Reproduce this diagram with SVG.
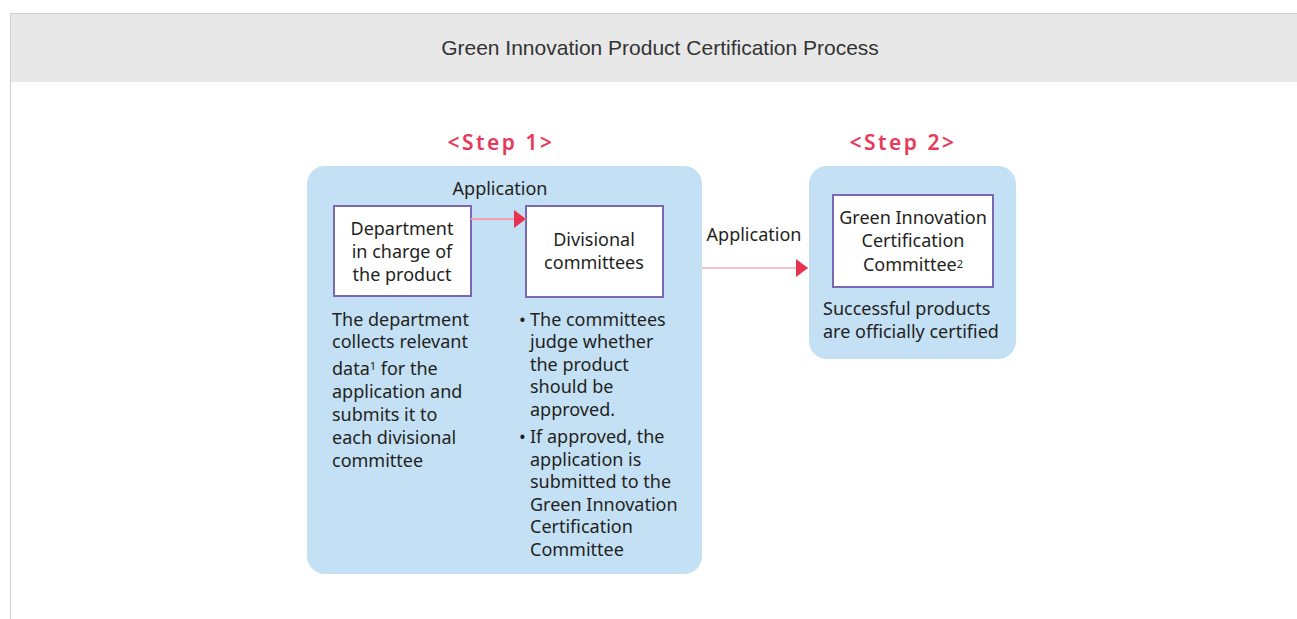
<svg xmlns="http://www.w3.org/2000/svg" width="1297" height="619" viewBox="0 0 1297 619">
<defs>
<style>
.t{font-family:"Noto Sans","Open Sans",sans-serif;font-size:18px;fill:#231f20}
.c{text-anchor:middle}
.step{font-family:"Noto Sans",sans-serif;font-size:21px;font-weight:600;fill:#e8395a;letter-spacing:2.5px;text-anchor:middle}
.panel{fill:#c3e0f5}
.node{fill:#fff;stroke:#7b68b5;stroke-width:2}
.sup{font-size:11px}
</style>
<marker id="ah" viewBox="0 0 12 18" refX="12" refY="9" markerWidth="12" markerHeight="18" markerUnits="userSpaceOnUse" orient="auto">
<path d="M0,0 L12,9 L0,18 Z" fill="#e8334f"/>
</marker>
</defs>
<rect x="0" y="0" width="1297" height="619" fill="#fff"/>
<rect x="10" y="13" width="1287" height="69" fill="#e8e8e8"/>
<line x1="10" y1="13.5" x2="1297" y2="13.5" stroke="#cfcfcf" stroke-width="1"/>
<line x1="10.5" y1="13" x2="10.5" y2="619" stroke="#cfcfcf" stroke-width="1"/>
<text x="660" y="55" text-anchor="middle" style="font-family:'Liberation Sans',Arial,sans-serif;font-size:21px;fill:#333">Green Innovation Product Certification Process</text>

<g id="step1">
<text class="step" x="501" y="150">&lt;Step 1&gt;</text>
<rect class="panel" x="307" y="166" width="395" height="408" rx="18"/>
<text class="t c" x="500" y="195">Application</text>
<text class="t" x="332"><tspan x="332" y="326">The department</tspan><tspan x="332" y="348">collects relevant</tspan><tspan x="332" y="375">data<tspan class="sup" dy="-5">1</tspan><tspan dy="5"> for the</tspan></tspan><tspan x="332" y="398">application and</tspan><tspan x="332" y="421">submits it to</tspan><tspan x="332" y="444">each divisional</tspan><tspan x="332" y="467">committee</tspan></text>
<text class="t"><tspan x="519" y="326">•</tspan><tspan x="530" y="326">The committees</tspan><tspan x="530" y="348">judge whether</tspan><tspan x="530" y="371">the product</tspan><tspan x="530" y="393">should be</tspan><tspan x="530" y="416">approved.</tspan><tspan x="519" y="443">•</tspan><tspan x="530" y="443">If approved, the</tspan><tspan x="530" y="466">application is</tspan><tspan x="530" y="488">submitted to the</tspan><tspan x="530" y="511">Green Innovation</tspan><tspan x="530" y="533">Certification</tspan><tspan x="530" y="556">Committee</tspan></text>
</g>

<g id="dept">
<rect class="node" x="334" y="206" width="137" height="90"/>
<text class="t c"><tspan x="402" y="235">Department</tspan><tspan x="402" y="258">in charge of</tspan><tspan x="402" y="281">the product</tspan></text>
</g>

<g id="divisional">
<rect class="node" x="526" y="206" width="137" height="91"/>
<text class="t c"><tspan x="594" y="246">Divisional</tspan><tspan x="594" y="269">committees</tspan></text>
</g>

<g id="step2">
<text class="step" x="903" y="150">&lt;Step 2&gt;</text>
<rect class="panel" x="809" y="166" width="207" height="193" rx="18"/>
<text class="t"><tspan x="823" y="315">Successful products</tspan><tspan x="823" y="338">are officially certified</tspan></text>
</g>

<g id="gicc">
<rect class="node" x="833" y="195" width="160" height="92"/>
<text class="t c"><tspan x="913" y="224">Green Innovation</tspan><tspan x="913" y="247">Certification</tspan><tspan x="913" y="271">Committee<tspan class="sup" dy="-3">2</tspan></tspan></text>
</g>

<g id="connectors">
<line x1="471" y1="219" x2="526" y2="219" stroke="#f0a0b0" stroke-width="2" marker-end="url(#ah)"/>
<line x1="702" y1="268" x2="808" y2="268" stroke="#f08090" stroke-width="1.2" marker-end="url(#ah)"/>
<text class="t c" x="754" y="241">Application</text>
</g>
</svg>
